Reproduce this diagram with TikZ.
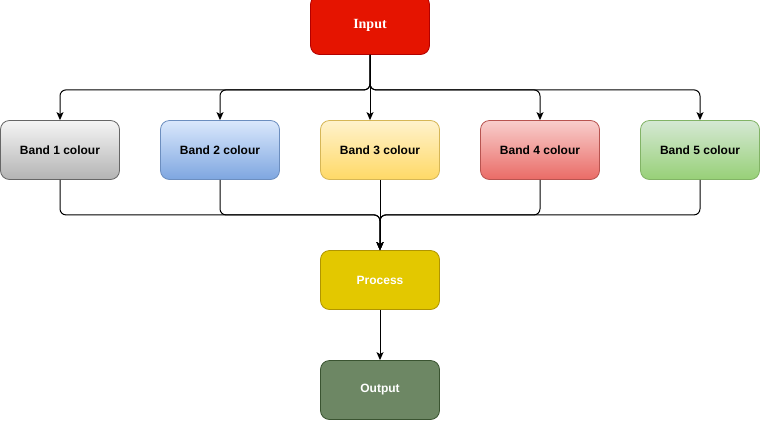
\documentclass[tikz,border=0pt]{standalone}
\usepackage{fontspec}
\setmainfont{Liberation Sans}
\newfontfamily\serifbold{Liberation Serif}
\usetikzlibrary{arrows.meta}
\definecolor{inF}{HTML}{E51400}\definecolor{inD}{HTML}{B20000}
\definecolor{prF}{HTML}{E3C800}\definecolor{prD}{HTML}{B09500}
\definecolor{ouF}{HTML}{6D8764}\definecolor{ouD}{HTML}{3A5431}
\definecolor{gT}{HTML}{F5F5F5}\definecolor{gB}{HTML}{B3B3B3}\definecolor{gD}{HTML}{666666}
\definecolor{bT}{HTML}{DAE8FC}\definecolor{bB}{HTML}{7EA6E0}\definecolor{bD}{HTML}{6C8EBF}
\definecolor{yT}{HTML}{FFF2CC}\definecolor{yB}{HTML}{FFD966}\definecolor{yD}{HTML}{D6B656}
\definecolor{rT}{HTML}{F8CECC}\definecolor{rB}{HTML}{EA6B66}\definecolor{rD}{HTML}{B85450}
\definecolor{nT}{HTML}{D5E8D4}\definecolor{nB}{HTML}{97D077}\definecolor{nD}{HTML}{82B366}
\begin{document}
\begin{tikzpicture}[x=1pt,y=-1pt,
  box/.style={rectangle,rounded corners=9pt,minimum width=119pt,minimum height=59pt,inner sep=0pt,line width=0.8pt,font=\fontsize{12}{14}\selectfont\bfseries},
  band/.style={box,draw=#1D,top color=#1T,bottom color=#1B,text=black},
  conn/.style={draw=black,line width=1pt,rounded corners=6pt,-{Stealth[length=8pt,width=7pt,inset=2pt]}}]
\useasboundingbox (0,0) rectangle (761,421);
\node[box,draw=inD,fill=inF,text=white,font=\serifbold\fontsize{14}{16}\selectfont\bfseries] (in) at (370,25) {Input};
\node[band=g] (b1) at (60,150) {Band 1 colour};
\node[band=b] (b2) at (220,150) {Band 2 colour};
\node[band=y] (b3) at (380,150) {Band 3 colour};
\node[band=r] (b4) at (540,150) {Band 4 colour};
\node[band=n] (b5) at (700,150) {Band 5 colour};
\node[box,draw=prD,fill=prF,text=white] (pr) at (380,280) {Process};
\node[box,draw=ouD,fill=ouF,text=white] (ou) at (380,390) {Output};
\foreach \b in {b1,b2,b4,b5}{
  \draw[conn] (in.south) -- ++(0,35) -| (\b.north);
}
\draw[conn] (in.south) -- (in.south |- b3.north);
\foreach \b in {b1,b2,b4,b5}{
  \draw[conn] (\b.south) -- ++(0,35) -| (pr.north);
}
\draw[conn] (b3.south) -- (pr.north);
\draw[conn] (pr.south) -- (ou.north);
\end{tikzpicture}
\end{document}
